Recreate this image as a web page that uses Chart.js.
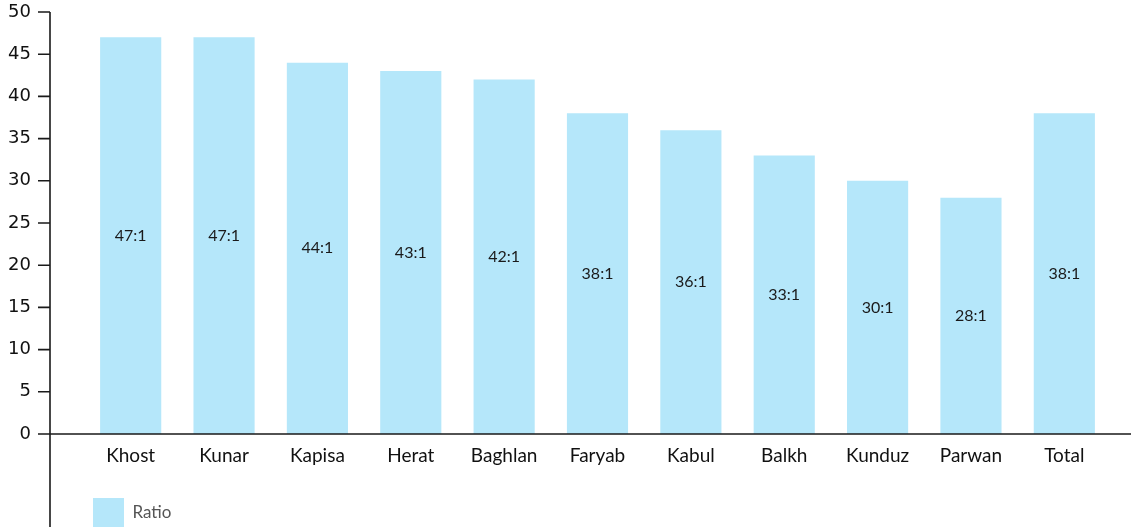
<!DOCTYPE html>
<html>
<head>
<meta charset="utf-8">
<script src="https://cdn.jsdelivr.net/npm/chart.js@4"></script>
<style>
  html, body { margin: 0; padding: 0; background: #fff; }
  #wrap { width: 1131px; height: 527px; position: relative; }
</style>
</head>
<body>
<div id="wrap"><canvas id="ratioChart"></canvas></div>
<script>
// donnees
var PROVINCES = ["Khost", "Kunar", "Kapisa", "Herat", "Baghlan", "Faryab", "Kabul", "Balkh", "Kunduz", "Parwan", "Total"];
var RATIO = [47, 47, 44, 43, 42, 38, 36, 33, 30, 28, 38];
var Y_TICKS = [0, 5, 10, 15, 20, 25, 30, 35, 40, 45, 50];
var SERIES_NAME = "Ratio";
var BAR_COLOR = "rgb(181,231,250)";

// axes dessines a la main (decales a gauche de la zone du graphe)
var axisLines = {
    id: 'axisLines',
    afterDraw: function(chart) {
        var ctx = chart.ctx;
        var y = chart.scales.y;
        var axisX = 50;
        ctx.save();
        ctx.strokeStyle = "#1a1a1a";
        ctx.lineWidth = 1.6;
        ctx.beginPath();
        ctx.moveTo(axisX, y.getPixelForValue(50));
        ctx.lineTo(axisX, chart.height);
        y.ticks.forEach(function(t) {
            var py = y.getPixelForValue(t.value);
            ctx.moveTo(axisX - 12, py);
            ctx.lineTo(axisX, py);
        });
        var y0 = y.getPixelForValue(0);
        ctx.moveTo(axisX - 12, y0);
        ctx.lineTo(chart.width, y0);
        ctx.stroke();
        ctx.restore();
    }
};

// etiquettes "47:1" au milieu des barres
var barLabels = {
    id: 'barLabels',
    afterDatasetsDraw: function(chart) {
        var ctx = chart.ctx;
        var meta = chart.getDatasetMeta(0);
        ctx.save();
        ctx.font = "16px Lato";
        ctx.fillStyle = "#1a1a1a";
        ctx.textAlign = "center";
        ctx.textBaseline = "middle";
        meta.data.forEach(function(bar, i) {
            ctx.fillText(RATIO[i] + ":1", bar.x, (bar.y + bar.base) / 2);
        });
        ctx.restore();
    }
};

var ctx1 = document.getElementById("ratioChart").getContext("2d");
var ratioChart = new Chart(ctx1, {
    type: 'bar',
    data: {
        labels: PROVINCES,
        datasets: [{
            label: SERIES_NAME,
            data: RATIO,
            backgroundColor: BAR_COLOR,
            hoverBackgroundColor: BAR_COLOR,
            borderWidth: 0,
            categoryPercentage: 1,
            barPercentage: 0.655
        }]
    },
    options: {
        responsive: true,
        maintainAspectRatio: false,
        animation: false,
        layout: { padding: { top: 12, right: 20, left: 0, bottom: 0 } },
        plugins: {
            tooltip: { enabled: false },
            legend: {
                position: 'bottom',
                align: 'start',
                fullSize: false,
                maxHeight: 38,
                labels: {
                    boxWidth: 31,
                    boxHeight: 29,
                    padding: 9,
                    color: "#555",
                    font: { family: "Lato", size: 17 }
                }
            }
        },
        scales: {
            x: {
                grid: { display: false },
                border: { display: false },
                ticks: {
                    color: "#111",
                    padding: 2,
                    font: { family: "Lato", size: 19 }
                },
                afterFit: function(scale) { scale.height = 55; }
            },
            y: {
                min: 0,
                max: 50,
                grid: { display: false, drawTicks: true, tickLength: 53 },
                border: { display: false },
                afterBuildTicks: function(scale) {
                    scale.ticks = Y_TICKS.map(function(v) { return { value: v }; });
                },
                ticks: {
                    color: "#111",
                    padding: 0,
                    font: { family: "DejaVu Sans", size: 18 }
                },
                afterFit: function(scale) { scale.width = 84; }
            }
        }
    },
    plugins: [axisLines, barLabels]
});
</script>
</body>
</html>
